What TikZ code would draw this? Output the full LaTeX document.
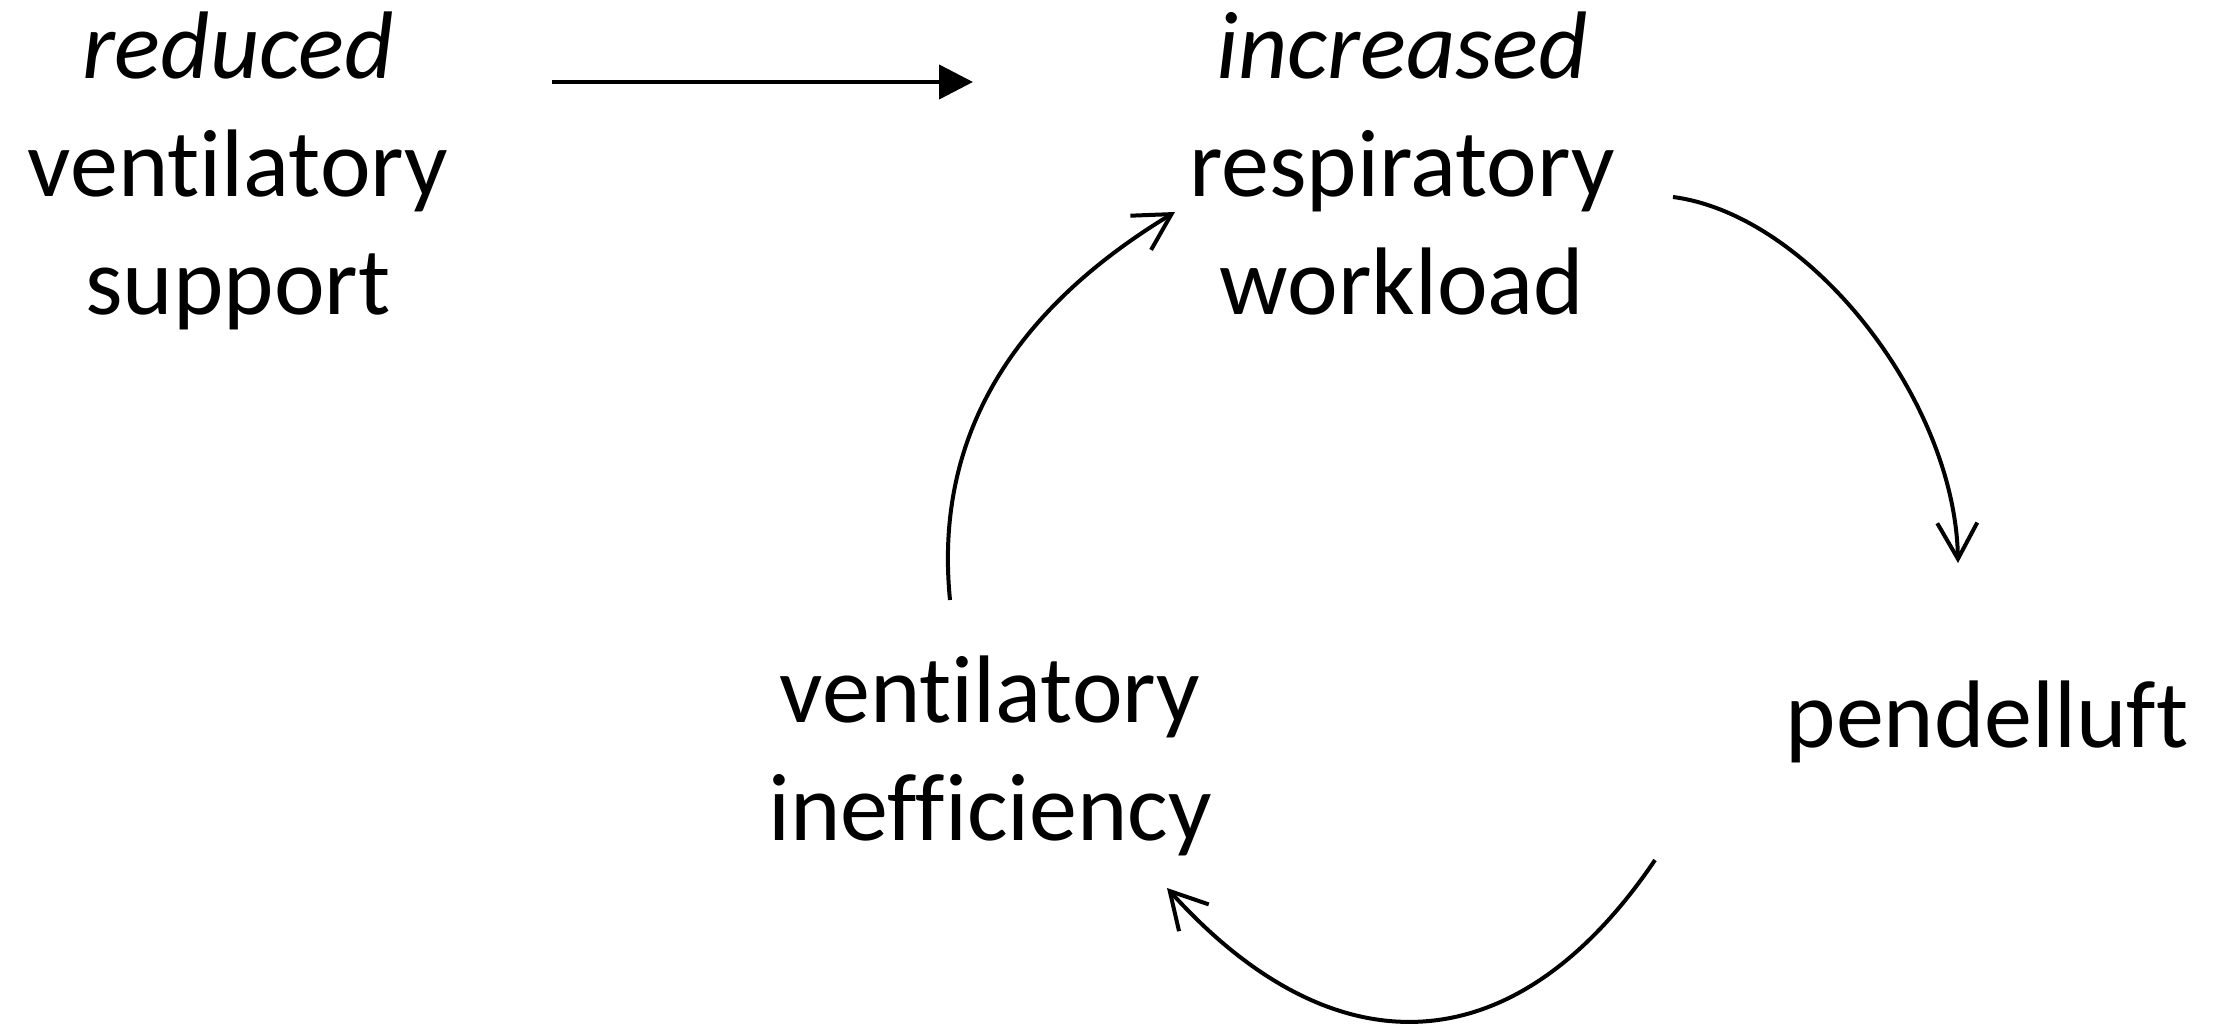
\documentclass[tikz,border=0pt]{standalone}
\usepackage{fontspec}
\setmainfont{Carlito}[Ligatures=NoCommon]
\usetikzlibrary{arrows.meta}
\begin{document}
\begin{tikzpicture}[x=0.5pt,y=-0.5pt,
  lbl/.style={align=center,anchor=base,inner sep=0pt,font=\fontsize{48}{59}\selectfont},
  straightarr/.style={line width=2.2pt,-{Triangle[length=17pt,width=17pt]}},
  curvearr/.style={line width=2pt,-{Straight Barb[length=18pt,width=20pt,line width=2pt]}}]
\useasboundingbox (0,0) rectangle (2226,1026);
\node[lbl] (red) at (238,315) {\textit{reduced}\\ventilatory\\support};
\node[lbl] (inc) at (1402,315) {\textit{increased}\\respiratory\\workload};
\node[lbl] (pen) at (1987,747) {pendelluft};
\node[lbl] (ine) at (990,840) {ventilatory\\inefficiency};
\coordinate (s0) at (552,82);
\coordinate (e0) at (973,82);
\coordinate (s1) at (1673,197);
\coordinate (e1) at (1958,563);
\coordinate (s2) at (1655,860);
\coordinate (e2) at (1167,888);
\coordinate (s3) at (950,600);
\coordinate (e3) at (1175,212);
\draw[straightarr] (s0) -- (e0);
\draw[curvearr] (s1) .. controls (1810,215) and (1955,400) .. (e1);
\draw[curvearr] (s2) .. controls (1515,1067) and (1334,1073) .. (e2);
\draw[curvearr] (s3) .. controls (933,430) and (1020,306) .. (e3);
\end{tikzpicture}
\end{document}
